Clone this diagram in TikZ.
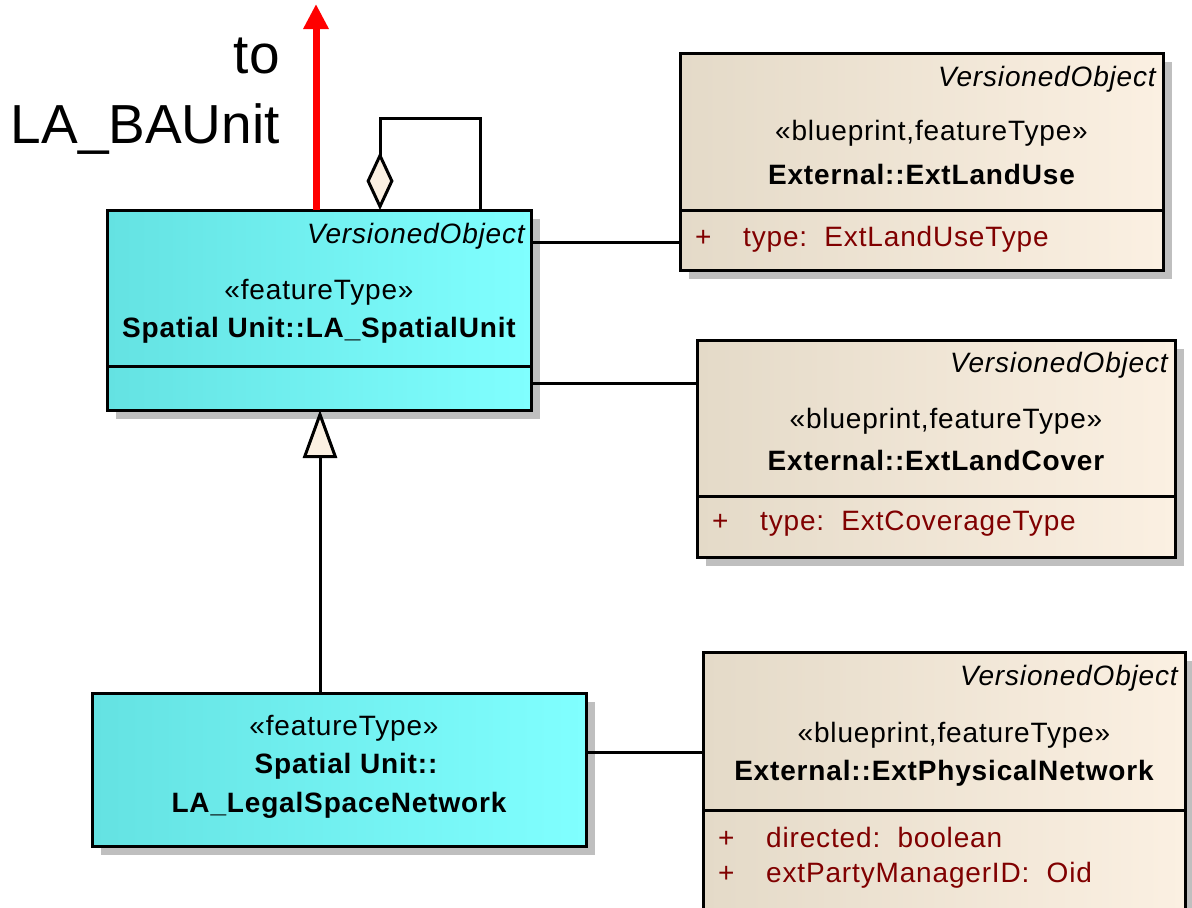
\documentclass[tikz,border=0pt]{standalone}
\usepackage{fontspec}
\setmainfont{Liberation Sans}
\newfontfamily\umlfam{Liberation Sans}[LetterSpace=3]
\usepackage{tikz}
\usetikzlibrary{arrows.meta, positioning, shadows}
\definecolor{featL}{RGB}{100,226,226}
\definecolor{featR}{RGB}{128,255,255}
\definecolor{extL}{RGB}{228,218,200}
\definecolor{extR}{RGB}{251,240,226}
\definecolor{shadowgray}{RGB}{191,191,191}
\definecolor{attrred}{RGB}{128,0,0}
\newcommand{\umlsize}{\umlfam\fontsize{28}{33}\selectfont}
\newcommand{\plusmark}{\makebox[48pt][l]{+}}
\tikzset{
every node/.style={inner sep=1pt},
umlbox/.style={draw, line width=3pt, outer sep=0pt, inner sep=0pt,
  drop shadow={shadow xshift=9pt, shadow yshift=-9pt, fill=shadowgray, opacity=1}}, % boxes with grey shadow
featbox/.style={umlbox, left color=featL, middle color=featR, right color=featR},
extbox/.style={umlbox, left color=extL, middle color=extR, right color=extR},
divider/.style={line width=3pt},
vobj/.style={font=\umlsize\itshape, anchor=east},
cname/.style={font=\umlsize\bfseries},
attr/.style={text=attrred, anchor=west},
link/.style={line width=3pt},
big/.style={font=\fontsize{55}{66}\selectfont, anchor=base east},
}

\begin{document}
\begin{tikzpicture}[x=1pt, y=-1pt, font=\umlsize, line join=miter]
  \useasboundingbox (0,0) rectangle (1192,908);
  \clip (0,0) rectangle (1192,908);

  % class boxes
  \node[featbox, minimum width=424pt, minimum height=200pt] (su) at (319,310) {};
  \node[featbox, minimum width=494pt, minimum height=153pt] (lsn) at (339,769.5) {};
  \node[extbox, minimum width=483pt, minimum height=217pt] (lu) at (921.5,161.5) {};
  \node[extbox, minimum width=478pt, minimum height=217pt] (lc) at (936,448.5) {};
  \node[extbox, minimum width=482pt, minimum height=273pt] (pn) at (944,788.5) {};

  % LA_SpatialUnit
  \node[vobj] (su-v) at ([xshift=-5pt,yshift=-26pt]su.north east) {VersionedObject};
  \node (su-s) at ([yshift=-82pt]su.north) {«featureType»};
  \node[cname] (su-n) at ([yshift=-120pt]su.north) {Spatial Unit::LA\_SpatialUnit};
  \draw[divider] ([yshift=-156pt]su.north west) -- ([yshift=-156pt]su.north east);

  % LA_LegalSpaceNetwork
  \node (lsn-s) at ([xshift=5pt,yshift=-35pt]lsn.north) {«featureType»};
  \node[cname] (lsn-n1) at ([xshift=7pt,yshift=-73pt]lsn.north) {Spatial Unit::};
  \node[cname] (lsn-n2) at ([yshift=-112pt]lsn.north) {LA\_LegalSpaceNetwork};

  % ExtLandUse
  \node[vobj] (lu-v) at ([xshift=-6pt,yshift=-26pt]lu.north east) {VersionedObject};
  \node (lu-s) at ([xshift=10pt,yshift=-80pt]lu.north) {«blueprint,featureType»};
  \node[cname] (lu-n) at ([yshift=-121pt]lu.north) {External::ExtLandUse};
  \draw[divider] ([yshift=-157pt]lu.north west) -- ([yshift=-157pt]lu.north east);
  \node[attr] (lu-a) at ([xshift=14pt,yshift=-186pt]lu.north west) {\plusmark type:\ \ ExtLandUseType};

  % ExtLandCover
  \node[vobj] (lc-v) at ([xshift=-6pt,yshift=-25pt]lc.north east) {VersionedObject};
  \node (lc-s) at ([xshift=10pt,yshift=-81pt]lc.north) {«blueprint,featureType»};
  \node[cname] (lc-n) at ([yshift=-120pt]lc.north) {External::ExtLandCover};
  \draw[divider] ([yshift=-156pt]lc.north west) -- ([yshift=-156pt]lc.north east);
  \node[attr] (lc-a) at ([xshift=14pt,yshift=-184pt]lc.north west) {\plusmark type:\ \ ExtCoverageType};

  % ExtPhysicalNetwork
  \node[vobj] (pn-v) at ([xshift=-6pt,yshift=-26pt]pn.north east) {VersionedObject};
  \node (pn-s) at ([xshift=10pt,yshift=-83pt]pn.north) {«blueprint,featureType»};
  \node[cname] (pn-n) at ([yshift=-121pt]pn.north) {External::ExtPhysicalNetwork};
  \draw[divider] ([yshift=-158pt]pn.north west) -- ([yshift=-158pt]pn.north east);
  \node[attr] (pn-a1) at ([xshift=14pt,yshift=-185pt]pn.north west) {\plusmark directed:\ \ boolean};
  \node[attr] (pn-a2) at ([xshift=14pt,yshift=-223pt]pn.north west) {\plusmark extPartyManagerID:\ \ Oid};

  % associations
  \draw[link] ([yshift=68pt]su.east) -- ([yshift=68pt]su.east -| lu.west);
  \draw[link] ([yshift=-73pt]su.east) -- ([yshift=-73pt]su.east -| lc.west);
  \draw[link] ([yshift=17.5pt]lsn.east) -- ([yshift=17.5pt]lsn.east -| pn.west);

  % generalization
  \coordinate (gen) at ([xshift=-19pt]lsn.north);
  \draw[link, {Triangle[length=48pt,width=34pt,fill=extR]}-] (su.south -| gen) -- (gen);

  % self aggregation
  \coordinate (agg) at (480,118);
  \draw[link, {Diamond[length=58pt,width=27pt,fill=extR]}-] ([xshift=61pt]su.north) |- (agg) -- (agg |- su.north);

  % link to LA_BAUnit
  \coordinate (ba) at (316,4);
  \draw[red, line width=7pt, -{Triangle[length=25pt,width=24pt]}] (su.north -| ba) -- (ba);
  \node[big] (to-l) at (281,73) {to};
  \node[big] (ba-l) at (281,143) {LA\_BAUnit};
\end{tikzpicture}
\end{document}
